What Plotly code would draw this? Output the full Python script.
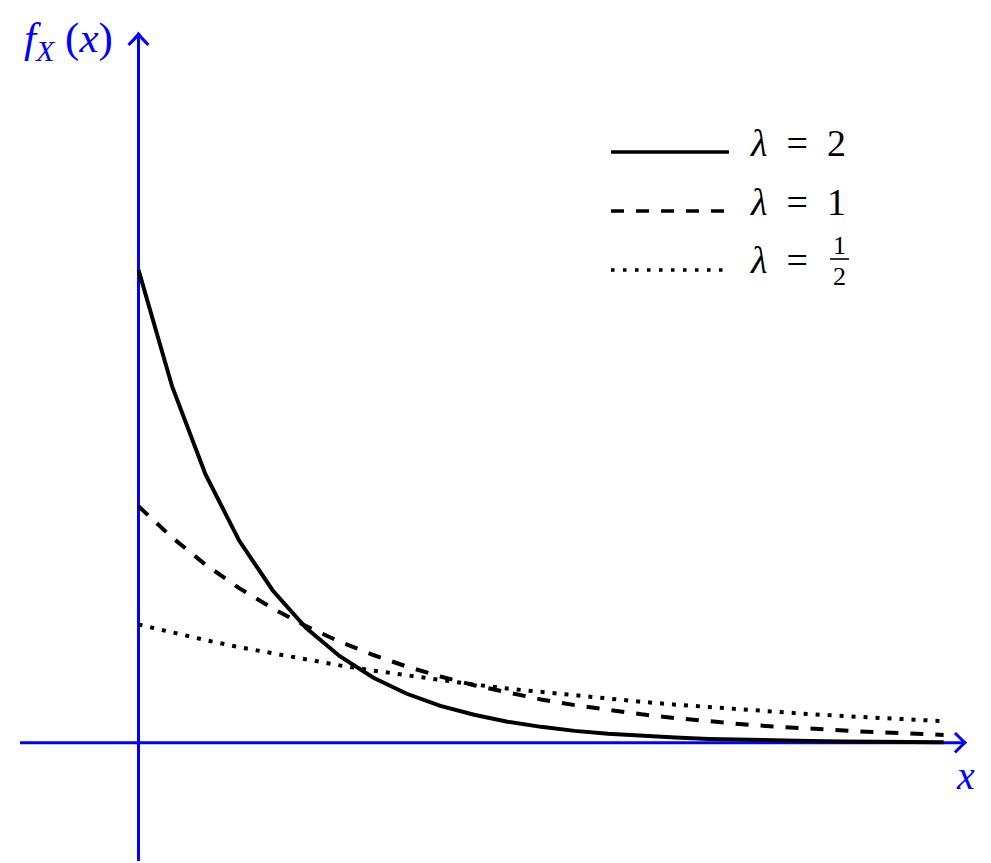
import plotly.graph_objects as go

# ---- data ----
x_vals = [0.0, 0.142, 0.283, 0.425, 0.567, 0.708, 0.85, 0.992, 1.133, 1.275,
          1.417, 1.558, 1.7, 1.842, 1.983, 2.125, 2.267, 2.408, 2.55, 2.692,
          2.833, 2.975, 3.117, 3.258, 3.4]
lam2 = [2.0, 1.507, 1.135, 0.855, 0.644, 0.485, 0.366, 0.275, 0.207, 0.156,
        0.118, 0.089, 0.067, 0.050, 0.038, 0.029, 0.022, 0.016, 0.012, 0.009,
        0.007, 0.005, 0.004, 0.003, 0.002]
lam1 = [1.0, 0.868, 0.753, 0.654, 0.568, 0.493, 0.427, 0.371, 0.322, 0.280,
        0.243, 0.211, 0.183, 0.159, 0.138, 0.120, 0.104, 0.090, 0.078, 0.068,
        0.059, 0.051, 0.044, 0.039, 0.033]
lam_half = [0.5, 0.466, 0.434, 0.404, 0.377, 0.351, 0.327, 0.305, 0.284, 0.264,
            0.246, 0.229, 0.214, 0.199, 0.186, 0.173, 0.161, 0.150, 0.140, 0.130,
            0.121, 0.113, 0.105, 0.098, 0.091]
series_labels = ["λ = 2", "λ = 1", "λ = "]
x_label = "x"
y_label = "f_X(x)"

# ---- geometry ----
W, H = 991, 863
X0, Y0, SX, SY = 138.5, 742.7, 236.8, 236.4
xr = [-X0 / SX, (W - X0) / SX]
yr = [-(H - Y0) / SY, Y0 / SY]


def dx(px):
    return (px - X0) / SX


def dy(py):
    return (Y0 - py) / SY


BLUE = "#0000ff"
FONT = "Liberation Serif"

fig = go.Figure()
styles = [("solid", lam2), ("13px,12px", lam1), ("4px,8px", lam_half)]
for name, (dash, ys) in zip(series_labels, styles):
    fig.add_trace(go.Scatter(x=x_vals, y=ys, mode="lines", name=name,
                             line=dict(color="black", width=4, dash=dash),
                             hoverinfo="skip"))

shapes = []
# axes
shapes.append(dict(type="line", x0=dx(20), x1=dx(965), y0=0, y1=0,
                   line=dict(color=BLUE, width=3), layer="below"))
shapes.append(dict(type="line", x0=0, x1=0, y0=dy(861), y1=dy(34),
                   line=dict(color=BLUE, width=3), layer="below"))
# arrow heads
tx, ty = dx(965), 0
p = (f"M {dx(955)},{dy(733)} Q {dx(962)},{dy(740)} {tx},{ty} "
     f"Q {dx(962)},{dy(745.4)} {dx(955)},{dy(752.4)}")
shapes.append(dict(type="path", path=p, line=dict(color=BLUE, width=3)))
tx, ty = 0, dy(34)
p = (f"M {dx(128.5)},{dy(45)} Q {dx(135.5)},{dy(38)} {tx},{ty} "
     f"Q {dx(141.5)},{dy(38)} {dx(148.5)},{dy(45)}")
shapes.append(dict(type="path", path=p, line=dict(color=BLUE, width=3)))

# legend samples
for py, dash in [(152, "solid"), (211, "13px,12px"), (270, "3.5px,8.5px")]:
    shapes.append(dict(type="line", x0=dx(611), x1=dx(729), y0=dy(py), y1=dy(py),
                       line=dict(color="black", width=3.5, dash=dash)))
# fraction bar
shapes.append(dict(type="line", x0=dx(830), x1=dx(849), y0=dy(259), y1=dy(259),
                   line=dict(color="black", width=1.6)))

ann = []


def add_text(text, px, py, size, color="black", xanchor="left"):
    ann.append(dict(text=text, x=px / W, y=1 - py / H, xref="paper", yref="paper",
                    showarrow=False, xanchor=xanchor, yanchor="middle",
                    font=dict(family=FONT, size=size, color=color)))


add_text("<i>λ</i>  =  2", 748, 143, 38)
add_text("<i>λ</i>  =  1", 748, 202, 38)
add_text("<i>λ</i>  =", 748, 260, 38)
add_text("1", 839.5, 246, 26, xanchor="center")
add_text("2", 839.5, 277, 26, xanchor="center")
add_text("<i>f</i><sub><i>X</i></sub> (<i>x</i>)", 68, 41, 43, BLUE, "center")
add_text("<i>x</i>", 965, 775, 40, BLUE, "center")

fig.update_layout(width=W, height=H, margin=dict(l=0, r=0, t=0, b=0),
                  font=dict(family=FONT, size=36, color="black"),
                  paper_bgcolor="white", plot_bgcolor="white", showlegend=False,
                  xaxis=dict(visible=False, range=xr, fixedrange=True),
                  yaxis=dict(visible=False, range=yr, fixedrange=True),
                  shapes=shapes, annotations=ann)
fig.write_html("out.html", post_script="document.body.style.margin='0';",
               config={"displayModeBar": False})
